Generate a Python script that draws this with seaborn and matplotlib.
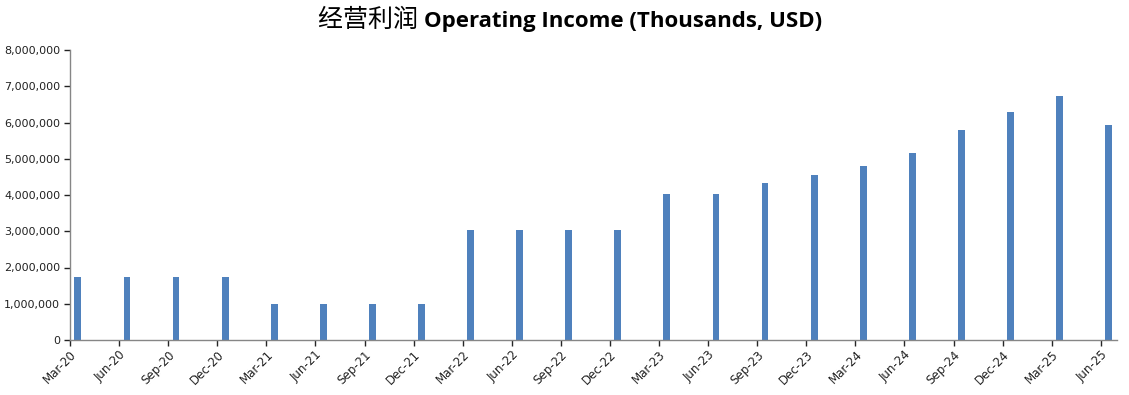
import numpy as np
import matplotlib
matplotlib.use("Agg")
import matplotlib.pyplot as plt
import seaborn as sns
from matplotlib.ticker import FuncFormatter

# quarter labels and operating income (thousands USD)
quarters = ["Mar-20", "Jun-20", "Sep-20", "Dec-20",
            "Mar-21", "Jun-21", "Sep-21", "Dec-21",
            "Mar-22", "Jun-22", "Sep-22", "Dec-22",
            "Mar-23", "Jun-23", "Sep-23", "Dec-23",
            "Mar-24", "Jun-24", "Sep-24", "Dec-24",
            "Mar-25", "Jun-25"]
income = [1750000, 1750000, 1750000, 1750000,
          1000000, 1000000, 1000000, 1000000,
          3030000, 3030000, 3030000, 3030000,
          4030000, 4030000, 4330000, 4550000,
          4800000, 5160000, 5790000, 6290000,
          6730000, 5930000]
yticks = list(range(0, 8000001, 1000000))

sns.set_theme(style="white")
plt.rcParams["font.family"] = ["DejaVu Sans"]

fig = plt.figure(figsize=(11.29, 3.95), dpi=100)
ax = fig.add_axes([70 / 1129, 1 - 340 / 395, 1047 / 1129, 290 / 395])

sns.barplot(x=quarters, y=income, color="#4F81BD", saturation=1,
            width=0.14, linewidth=0, ax=ax)

# Excel-style date axis: tick sits just left of each bar
shift = 0.16
n = len(quarters)
ax.set_xticks(np.arange(n) - shift)
ax.set_xticklabels(quarters, rotation=45, ha="right", rotation_mode="anchor",
                   fontsize=8.5, color="#222222")
ax.set_xlim(-shift, n - 1 + 0.17)

ax.set_ylim(0, 8000000)
ax.set_yticks(yticks)
ax.yaxis.set_major_formatter(FuncFormatter(lambda v, p: f"{int(v):,}"))
ax.tick_params(axis="y", labelsize=8, colors="#222222", length=4,
               width=1, direction="out", left=True, pad=3)
ax.tick_params(axis="x", length=4, width=1, direction="out", bottom=True,
               pad=2)
for t in ax.get_xticklines() + ax.get_yticklines():
    t.set_color("#868686")

for side in ["top", "right"]:
    ax.spines[side].set_visible(False)
for side in ["left", "bottom"]:
    ax.spines[side].set_color("#868686")
    ax.spines[side].set_linewidth(1)
ax.set_xlabel("")
ax.set_ylabel("")

# two-part title: Chinese regular + English bold
t1 = fig.text(0, 0, "经营利润 ", fontsize=18, family=["Noto Sans CJK SC"],
              va="baseline", color="black")
t2 = fig.text(0, 0, "Operating Income (Thousands, USD)", fontsize=16,
              fontweight="bold", family=["Open Sans"], va="baseline",
              color="black")
fig.canvas.draw()
r = fig.canvas.get_renderer()
w1 = t1.get_window_extent(r).width
w2 = t2.get_window_extent(r).width
W = fig.bbox.width
x0 = 570 - (w1 + w2) / 2
base = 1 - 27 / 395
t1.set_position((x0 / W, base))
t2.set_position(((x0 + w1) / W, base))

fig.savefig("out.png", dpi=100)
